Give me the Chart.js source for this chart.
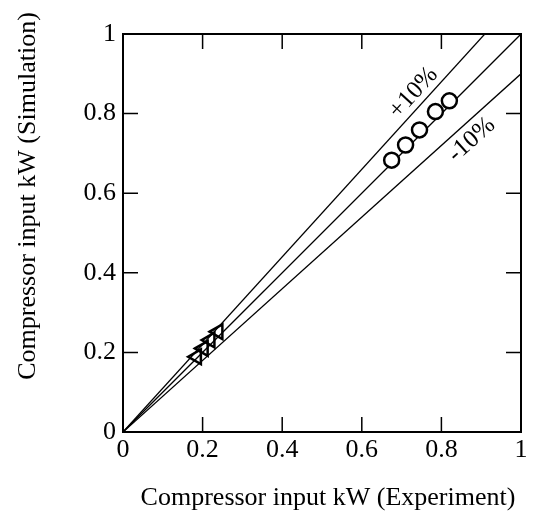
<!DOCTYPE html>
<html>
<head>
<meta charset="utf-8">
<script src="https://cdn.jsdelivr.net/npm/chart.js@4.4.1/dist/chart.umd.min.js"></script>
<style>
  body { margin: 0; background: #fff; }
  #wrap { width: 550px; height: 528px; }
</style>
</head>
<body>
<div id="wrap"><canvas id="chart" width="550" height="528"></canvas></div>
<script>
// data
const circleX = [0.675, 0.71, 0.745, 0.785, 0.82];
const circleY = [0.683, 0.721, 0.759, 0.805, 0.832];
const triX = [0.185, 0.202, 0.219, 0.239];
const triY = [0.189, 0.21, 0.231, 0.252];
const refRatios = [1, 1.1, 0.9];            // y = k * x
const refLabels = ['', '+10%', '-10%'];
const labelPos = [null, [0.73, 0.852], [0.876, 0.734]];
const tickValues = [0, 0.2, 0.4, 0.6, 0.8, 1];
const xTitle = 'Compressor input kW (Experiment)';
const yTitle = 'Compressor input kW (Simulation)';

const serif = 'Liberation Serif';

const toPts = (xs, ys) => xs.map((x, i) => ({ x: x, y: ys[i] }));

const refSets = refRatios.map(k => ({
  type: 'line',
  data: [{ x: 0, y: 0 }, { x: 1, y: k }],
  borderColor: '#000',
  borderWidth: 1.3,
  pointRadius: 0,
  fill: false
}));

// box + inward ticks + ratio labels + axis titles
const frame = {
  id: 'frame',
  afterDraw(chart) {
    const { ctx, chartArea: a, scales } = chart;
    const tl = 15;
    ctx.save();
    ctx.strokeStyle = '#000';
    ctx.lineWidth = 2;
    ctx.strokeRect(a.left, a.top, a.right - a.left, a.bottom - a.top);
    ctx.lineWidth = 1.5;
    ctx.beginPath();
    tickValues.forEach(v => {
      const px = scales.x.getPixelForValue(v);
      const py = scales.y.getPixelForValue(v);
      ctx.moveTo(px, a.bottom); ctx.lineTo(px, a.bottom - tl);
      ctx.moveTo(px, a.top); ctx.lineTo(px, a.top + tl);
      ctx.moveTo(a.left, py); ctx.lineTo(a.left + tl, py);
      ctx.moveTo(a.right, py); ctx.lineTo(a.right - tl, py);
    });
    ctx.stroke();

    ctx.fillStyle = '#000';
    ctx.font = '25px "' + serif + '"';
    ctx.textAlign = 'center';
    ctx.textBaseline = 'middle';
    refLabels.forEach((t, i) => {
      if (!t) return;
      const p = labelPos[i];
      ctx.save();
      ctx.translate(scales.x.getPixelForValue(p[0]), scales.y.getPixelForValue(p[1]));
      ctx.rotate(-Math.atan(refRatios[i]));
      ctx.fillText(t, 0, 0);
      ctx.restore();
    });

    ctx.font = '26px "' + serif + '"';
    ctx.fillText(xTitle, 328, 498);
    ctx.translate(28, 196);
    ctx.rotate(-Math.PI / 2);
    ctx.fillText(yTitle, 0, 0);
    ctx.restore();
  }
};

const tickFont = { family: serif, size: 26 };

new Chart(document.getElementById('chart'), {
  type: 'scatter',
  data: {
    datasets: [
      {
        data: toPts(circleX, circleY),
        pointStyle: 'circle',
        pointRadius: 7.5,
        pointBorderWidth: 2.5,
        borderColor: '#000',
        backgroundColor: '#fff'
      },
      {
        data: toPts(triX, triY),
        pointStyle: 'triangle',
        pointRotation: -90,
        pointRadius: 8.5,
        pointBorderWidth: 2.5,
        borderColor: '#000',
        backgroundColor: 'rgba(255,255,255,0)'
      },
      ...refSets
    ]
  },
  options: {
    responsive: false,
    animation: false,
    layout: { padding: { top: 34, right: 29, left: 0, bottom: 0 } },
    plugins: { legend: { display: false }, tooltip: { enabled: false } },
    scales: {
      x: {
        type: 'linear', min: 0, max: 1,
        grid: { display: false, drawTicks: false },
        border: { display: false },
        afterBuildTicks: s => { s.ticks = tickValues.map(v => ({ value: v })); },
        afterFit: s => { s.height = 96; },
        ticks: { font: tickFont, color: '#000', padding: 3, maxRotation: 0, callback: v => String(v) },
        title: { display: false }
      },
      y: {
        type: 'linear', min: 0, max: 1,
        grid: { display: false, drawTicks: false },
        border: { display: false },
        afterBuildTicks: s => { s.ticks = tickValues.map(v => ({ value: v })); },
        afterFit: s => { s.width = 123; },
        ticks: { font: tickFont, color: '#000', padding: 7, callback: v => String(v) },
        title: { display: false }
      }
    }
  },
  plugins: [frame]
});
</script>
</body>
</html>
